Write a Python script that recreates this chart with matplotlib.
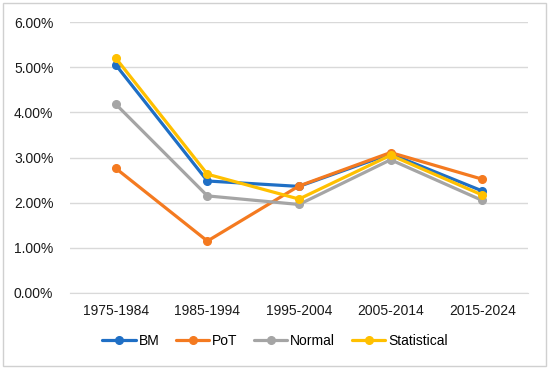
import matplotlib
matplotlib.use('Agg')
import matplotlib.pyplot as plt
from matplotlib.patches import Rectangle
from matplotlib.ticker import FuncFormatter

# data
periods = ['1975-1984', '1985-1994', '1995-2004', '2005-2014', '2015-2024']
bm = [5.05, 2.48, 2.36, 3.08, 2.26]
pot = [2.76, 1.15, 2.37, 3.11, 2.52]
normal = [4.18, 2.15, 1.96, 2.95, 2.05]
statistical = [5.20, 2.63, 2.08, 3.05, 2.17]

series = [('BM', bm, '#1f6fc5'), ('PoT', pot, '#f47a20'),
          ('Normal', normal, '#a5a5a5'), ('Statistical', statistical, '#ffc000')]

plt.rcParams['font.family'] = ['Liberation Sans', 'DejaVu Sans']

fig = plt.figure(figsize=(5.5, 3.69), dpi=100)
ax = fig.add_axes([70 / 550, 1 - 293 / 369, (528 - 70) / 550, (293 - 22) / 369])

x = list(range(len(periods)))
for name, vals, col in series:
    ax.plot(x, vals, color=col, lw=2.3, marker='o', ms=5.5, label=name,
            solid_capstyle='round')

ax.set_xlim(-0.5, len(periods) - 0.5)
ax.set_ylim(0, 6)
ax.set_yticks([0, 1, 2, 3, 4, 5, 6])
ax.yaxis.set_major_formatter(FuncFormatter(lambda v, p: f'{v:.2f}%'))
ax.set_xticks(x)
ax.set_xticklabels(periods)
ax.grid(axis='y', color='#d9d9d9', lw=1)
ax.set_axisbelow(True)
for s in ax.spines.values():
    s.set_visible(False)
ax.spines['bottom'].set_visible(True)
ax.spines['bottom'].set_color('#d9d9d9')
ax.tick_params(length=0, labelsize=10, colors='#1a1a1a', pad=8)
ax.tick_params(axis='y', pad=12)

fig.legend(loc='center', bbox_to_anchor=(0.5, 1 - 341 / 369), ncol=4, frameon=False,
           fontsize=10, handlelength=2.4, columnspacing=1.2, handletextpad=0.2)

fig.patches.append(Rectangle((3 / 550, 3 / 369), 543 / 550, 363 / 369, transform=fig.transFigure,
                             fill=False, edgecolor='#d0d0d0', lw=1))

fig.savefig('out.png', dpi=100)
